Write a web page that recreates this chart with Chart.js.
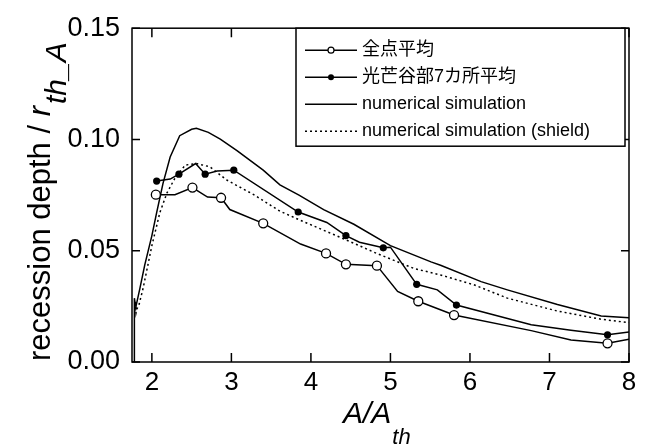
<!DOCTYPE html>
<html>
<head>
<meta charset="utf-8">
<script src="https://cdn.jsdelivr.net/npm/chart.js@4"></script>
<style>
  body { margin: 0; background: #fff; }
  canvas { display: block; }
</style>
</head>
<body>
<canvas id="grafico" width="650" height="446"></canvas>
<script>
// ticks
const xTicks = [2, 3, 4, 5, 6, 7, 8];
const yTicks = [0, 0.05, 0.10, 0.15];

// 全点平均 (open circles, mark = 1 where a marker is drawn)
const xAll = [2.05, 2.29, 2.51, 2.70, 2.87, 2.98, 3.40, 3.87, 4.19, 4.44, 4.83, 5.09, 5.35, 5.80, 6.77, 7.27, 7.73, 8.00];
const yAll = [0.0752, 0.0752, 0.0784, 0.0741, 0.0738, 0.0685, 0.0623, 0.0530, 0.0488, 0.0439, 0.0433, 0.0317, 0.0273, 0.0211, 0.0141, 0.0099, 0.0084, 0.0102];
const markAll = [1, 0, 1, 0, 1, 0, 1, 0, 1, 1, 1, 0, 1, 1, 0, 0, 1, 0];

// 光芒谷部7カ所平均 (filled circles)
const xValley = [2.06, 2.23, 2.34, 2.55, 2.67, 2.82, 3.03, 3.84, 4.20, 4.44, 4.61, 4.91, 5.00, 5.33, 5.59, 5.83, 6.77, 7.27, 7.73, 8.00];
const yValley = [0.0813, 0.0822, 0.0844, 0.0892, 0.0844, 0.0858, 0.0862, 0.0674, 0.0627, 0.0568, 0.0538, 0.0513, 0.0516, 0.0349, 0.0324, 0.0256, 0.0167, 0.0143, 0.0122, 0.0135];
const markValley = [1, 0, 1, 0, 1, 0, 1, 1, 0, 1, 0, 1, 0, 1, 0, 1, 0, 0, 1, 0];

// numerical simulation
const xSim = [1.78, 1.78, 1.79, 1.80, 1.85, 1.91, 2.00, 2.06, 2.14, 2.23, 2.35, 2.50, 2.56, 2.71, 2.86, 3.07, 3.40, 3.61, 3.85, 4.16, 4.54, 5.00, 5.51, 5.63, 6.14, 6.47, 7.10, 7.65, 8.00];
const ySim = [0, 0.0287, 0.0260, 0.0250, 0.0332, 0.0435, 0.0568, 0.0671, 0.0803, 0.0921, 0.1017, 0.1046, 0.1050, 0.1032, 0.1002, 0.0950, 0.0862, 0.0796, 0.0750, 0.0685, 0.0619, 0.0523, 0.0450, 0.0435, 0.0361, 0.0324, 0.0258, 0.0207, 0.0199];

// numerical simulation (shield)
const xShield = [1.79, 1.80, 1.81, 1.84, 1.89, 2.00, 2.10, 2.19, 2.29, 2.42, 2.56, 2.73, 2.94, 3.28, 3.61, 3.84, 4.03, 4.46, 4.84, 5.30, 5.63, 6.05, 6.47, 7.10, 7.65, 8.00];
const yShield = [0.0270, 0.0220, 0.0236, 0.0260, 0.0332, 0.0523, 0.0671, 0.0760, 0.0826, 0.0885, 0.0892, 0.0877, 0.0818, 0.0752, 0.0678, 0.0641, 0.0612, 0.0546, 0.0486, 0.0420, 0.0391, 0.0347, 0.0287, 0.0229, 0.0192, 0.0177];

const fonte = '"Liberation Sans", Arial, "Noto Sans CJK JP", sans-serif';

const pontos = (xs, ys) => xs.map((v, i) => ({ x: v, y: ys[i] }));

const datasets = [
  {
    label: '全点平均',
    data: pontos(xAll, yAll),
    borderColor: '#000',
    backgroundColor: '#fff',
    borderWidth: 1.5,
    pointRadius: markAll.map(m => m ? 4.5 : 0),
    pointBorderWidth: 1.3,
    pointBackgroundColor: '#fff',
    pointBorderColor: '#000',
    legendMarker: 'open'
  },
  {
    label: '光芒谷部7カ所平均',
    data: pontos(xValley, yValley),
    borderColor: '#000',
    backgroundColor: '#000',
    borderWidth: 1.5,
    pointRadius: markValley.map(m => m ? 3.6 : 0),
    pointBorderWidth: 0,
    pointBackgroundColor: '#000',
    legendMarker: 'filled'
  },
  {
    label: 'numerical simulation',
    data: pontos(xSim, ySim),
    borderColor: '#000',
    borderWidth: 1.5,
    pointRadius: 0
  },
  {
    label: 'numerical simulation (shield)',
    data: pontos(xShield, yShield),
    borderColor: '#000',
    borderWidth: 1.5,
    borderDash: [2, 3],
    pointRadius: 0
  }
];

// caixa, ticks para dentro
const moldura = {
  id: 'moldura',
  afterDraw(chart) {
    const { ctx, chartArea: a, scales: { x, y } } = chart;
    ctx.save();
    ctx.strokeStyle = '#000';
    ctx.lineWidth = 1.5;
    ctx.strokeRect(a.left, a.top, a.right - a.left, a.bottom - a.top);
    ctx.beginPath();
    x.ticks.forEach(t => {
      const px = x.getPixelForValue(t.value);
      ctx.moveTo(px, a.bottom); ctx.lineTo(px, a.bottom - 9);
      ctx.moveTo(px, a.top); ctx.lineTo(px, a.top + 9);
    });
    y.ticks.forEach(t => {
      const py = y.getPixelForValue(t.value);
      ctx.moveTo(a.left, py); ctx.lineTo(a.left + 8, py);
      ctx.moveTo(a.right, py); ctx.lineTo(a.right - 8, py);
    });
    ctx.stroke();
    ctx.restore();
  }
};

// legenda
const legenda = {
  id: 'legenda',
  afterDraw(chart) {
    const { ctx, chartArea: a } = chart;
    const bx = a.left + 164, by = a.top, bw = a.right - 4 - bx, bh = 118;
    ctx.save();
    ctx.fillStyle = '#fff';
    ctx.fillRect(bx, by, bw, bh);
    ctx.strokeStyle = '#000';
    ctx.lineWidth = 1.5;
    ctx.strokeRect(bx, by, bw, bh);
    chart.data.datasets.forEach((ds, i) => {
      const yy = by + 22 + i * 27;
      const x0 = bx + 9, x1 = bx + 61;
      ctx.beginPath();
      ctx.lineWidth = 1.5;
      ctx.setLineDash(ds.borderDash || []);
      ctx.moveTo(x0, yy); ctx.lineTo(x1, yy);
      ctx.stroke();
      ctx.setLineDash([]);
      if (ds.legendMarker) {
        ctx.beginPath();
        ctx.arc((x0 + x1) / 2, yy, 3, 0, Math.PI * 2);
        if (ds.legendMarker === 'open') {
          ctx.fillStyle = '#fff'; ctx.fill();
          ctx.lineWidth = 1.2; ctx.stroke();
        } else {
          ctx.fillStyle = '#000'; ctx.fill();
        }
      }
      ctx.fillStyle = '#000';
      ctx.font = '18px ' + fonte;
      ctx.textBaseline = 'middle';
      ctx.textAlign = 'left';
      ctx.fillText(ds.label, x1 + 5, yy);
    });
    ctx.restore();
  }
};

// titulos dos eixos (com subscrito)
const titulos = {
  id: 'titulos',
  afterDraw(chart) {
    const { ctx } = chart;
    ctx.save();
    ctx.fillStyle = '#000';
    ctx.textBaseline = 'alphabetic';
    ctx.textAlign = 'left';
    // eixo x: A/A_th
    ctx.font = 'italic 30px ' + fonte;
    const tx = 'A/A';
    const w = ctx.measureText(tx).width;
    const sx = 343;
    ctx.fillText(tx, sx, 423);
    ctx.font = 'italic 22px ' + fonte;
    ctx.fillText('th', sx + w + 1, 444);
    // eixo y: recession depth / r_th_A
    ctx.translate(50, 361);
    ctx.rotate(-Math.PI / 2);
    ctx.font = '31px ' + fonte;
    const t1 = 'recession depth / ';
    ctx.fillText(t1, 0, 0);
    let px = ctx.measureText(t1).width;
    ctx.font = 'italic 31px ' + fonte;
    ctx.fillText('r', px, 0);
    px += ctx.measureText('r').width + 2;
    ctx.font = 'italic 30px ' + fonte;
    ctx.fillText('th_A', px, 16);
    ctx.restore();
  }
};

new Chart(document.getElementById('grafico').getContext('2d'), {
  type: 'scatter',
  data: { datasets: datasets.map(d => Object.assign({ showLine: true, tension: 0, fill: false }, d)) },
  options: {
    responsive: false,
    animation: false,
    layout: { padding: { top: 23, right: 21, left: 0, bottom: 0 } },
    scales: {
      x: {
        type: 'linear',
        min: 1.75,
        max: 8,
        grid: { display: false, drawTicks: false },
        border: { display: false },
        afterBuildTicks: s => { s.ticks = xTicks.map(v => ({ value: v })); },
        afterFit: s => { s.height = 84; },
        ticks: {
          color: '#000',
          padding: 5,
          font: { size: 26, family: fonte },
          maxRotation: 0,
          callback: v => String(v)
        }
      },
      y: {
        type: 'linear',
        min: 0,
        max: 0.15,
        grid: { display: false, drawTicks: false },
        border: { display: false },
        afterBuildTicks: s => { s.ticks = yTicks.map(v => ({ value: v })); },
        afterFit: s => { s.width = 132; },
        ticks: {
          color: '#000',
          padding: 12,
          font: { size: 27, family: fonte },
          callback: v => v.toFixed(2)
        }
      }
    },
    plugins: {
      legend: { display: false },
      tooltip: { enabled: false }
    }
  },
  plugins: [moldura, legenda, titulos]
});
</script>
</body>
</html>
